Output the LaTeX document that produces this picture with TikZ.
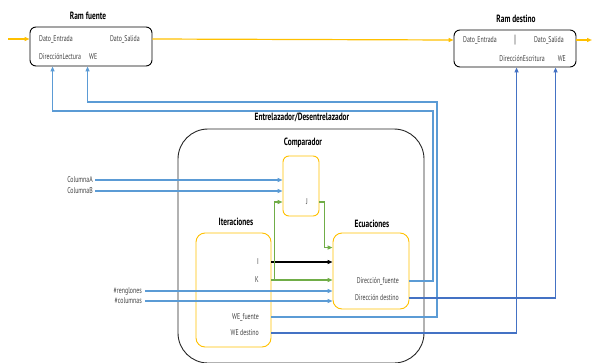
\documentclass[tikz,border=0pt]{standalone}
\usepackage{fontspec}
\setmainfont[FakeStretch=0.7]{PT Sans}
\usetikzlibrary{arrows.meta,calc}
\definecolor{cOr}{HTML}{FFC000}
\definecolor{cBl}{HTML}{5B9BD5}
\definecolor{cBd}{HTML}{4472C4}
\definecolor{cGr}{HTML}{70AD47}
\definecolor{cTx}{HTML}{404040}
\begin{document}
\begin{tikzpicture}[x=1pt,y=-1pt,
 lbl/.style={font=\fontsize{8.4}{9}\selectfont, text=cTx, inner sep=0pt},
 ttl/.style={font=\fontsize{10.5}{11}\selectfont\bfseries, inner sep=0pt},
 rambox/.style={draw=black, line width=0.9pt, rounded corners=6pt, inner sep=0pt},
 obox/.style={draw=cOr, line width=0.9pt, rounded corners=9pt, inner sep=0pt},
 bigbox/.style={draw=black!85, line width=0.9pt, rounded corners=30pt, inner sep=0pt},
 tip/.style={-{Triangle[length=5pt,width=4pt]}},
 orl/.style={draw=cOr, line width=1.2pt, tip},
 bll/.style={draw=cBl, line width=1.2pt, tip},
 bdl/.style={draw=cBd, line width=1.4pt, tip},
 grl/.style={draw=cGr, line width=1.2pt, tip},
 bkl/.style={draw=black, line width=1.2pt, tip}]
\useasboundingbox (0,0) rectangle (592,362);

% boxes
\node[rambox, minimum width=122pt, minimum height=39pt] (rf) at (91,46.5) {};
\node[rambox, minimum width=122pt, minimum height=37pt] (rd) at (515,48.5) {};
\node[bigbox, minimum width=246pt, minimum height=234pt] (ent) at (301,246) {};
\node[obox, rounded corners=6pt, minimum width=36pt, minimum height=60pt] (cp) at (301,186) {};
\node[obox, minimum width=75pt, minimum height=114pt] (it) at (233.5,290) {};
\node[obox, minimum width=76pt, minimum height=76pt] (ec) at (371,271) {};

% titles
\node[ttl] (tRF) at (88,16) {Ram fuente};
\node[ttl] (tRD) at (516,19) {Ram destino};
\node[ttl] (tEnt) at (302,117) {Entrelazador/Desentrelazador};
\node[ttl] (tCp) at (303,143) {Comparador};
\node[ttl] (tIt) at (236,222) {Iteraciones};
\node[ttl] (tEc) at (372,224) {Ecuaciones};

% labels
\node[lbl, anchor=west] (rfDE) at (39,39) {Dato\_Entrada};
\node[lbl, anchor=east] (rfDS) at (140,39) {Dato\_Salida};
\node[lbl, anchor=west] (rfDL) at (39,57) {DirecciónLectura};
\node[lbl, anchor=west] (rfWE) at (89,57) {WE};
\node[lbl, anchor=west] (rdDE) at (463,40) {Dato\_Entrada};
\node[lbl, font=\fontsize{12}{13}\selectfont] (rdSep) at (515,40) {|};
\node[lbl, anchor=east] (rdDS) at (564,40) {Dato\_Salida};
\node[lbl, anchor=east] (rdDEs) at (545,59) {DirecciónEscritura};
\node[lbl, anchor=east] (rdWE) at (566,59) {WE};
\node[lbl] (cpJ) at (307,202) {J};
\node[lbl, anchor=east] (itI) at (259,262) {I};
\node[lbl, anchor=east] (itK) at (259,280) {K};
\node[lbl, anchor=east] (itWEf) at (259,317) {WE\_fuente};
\node[lbl, anchor=east] (itWEd) at (259,333) {WE destino};
\node[lbl, anchor=east] (ecDF) at (399,281) {Dirección\_fuente};
\node[lbl, anchor=east] (ecDD) at (399,298) {Dirección destino};
\node[lbl, anchor=east] (cA) at (93,180) {ColumnaA};
\node[lbl, anchor=east] (cB) at (93,191) {ColumnaB};
\node[lbl, anchor=east] (nR) at (142,291) {\#renglones};
\node[lbl, anchor=east] (nC) at (142,301) {\#columnas};

% coordinates
\coordinate (inL) at (8,39);
\coordinate (outR) at (592,40);
\coordinate (rfA) at ($(rf.south west)+(23,0)$);
\coordinate (rfB) at ($(rf.south west)+(58,0)$);
\coordinate (rdA) at ($(rd.south west)+(63,0)$);
\coordinate (rdB) at ($(rd.south west)+(102,0)$);
\coordinate (bendA) at (433,111);
\coordinate (bendB) at (437,102);
\coordinate (gK) at ($(it.east |- itK)+(3,0)$);
\coordinate (ecIn) at ($(ec.north west)+(0,15)$);

% orange data lines
\draw[orl] (inL) -- (rf.west |- rfDE);
\draw[orl] (rf.east |- rfDS) -- (rd.west |- rdDE);
\draw[orl] (rd.east |- rdDS) -- (outR |- rdDS);

% blue address / enable lines
\draw[bll] (ec.east |- ecDF) -| (bendA) -| (rfA);
\draw[bll] (it.east |- itWEf) -| (bendB) -| (rfB);
\draw[bdl] (ec.east |- ecDD) -| (rdB);
\draw[bdl] (it.east |- itWEd) -| (rdA);

% inputs
\draw[bll] ([xshift=2pt]cA.east) -- (cp.west |- cA.east);
\draw[bll] ([xshift=2pt]cB.east) -- (cp.west |- cB.east);
\draw[bll] ([xshift=3pt]nR.east) -- (ec.west |- nR.east);
\draw[bll] ([xshift=3pt]nC.east) -- (ec.west |- nC.east);

% green / black
\draw[bkl] (it.east |- itI) -- (ec.west |- itI);
\draw[grl] (it.east |- itK) -- (ec.west |- itK);
\draw[grl] (gK) |- (cp.west |- cpJ);
\draw[grl] (cp.east |- cpJ) -- ++(5,0) |- (ecIn);
\end{tikzpicture}
\end{document}
